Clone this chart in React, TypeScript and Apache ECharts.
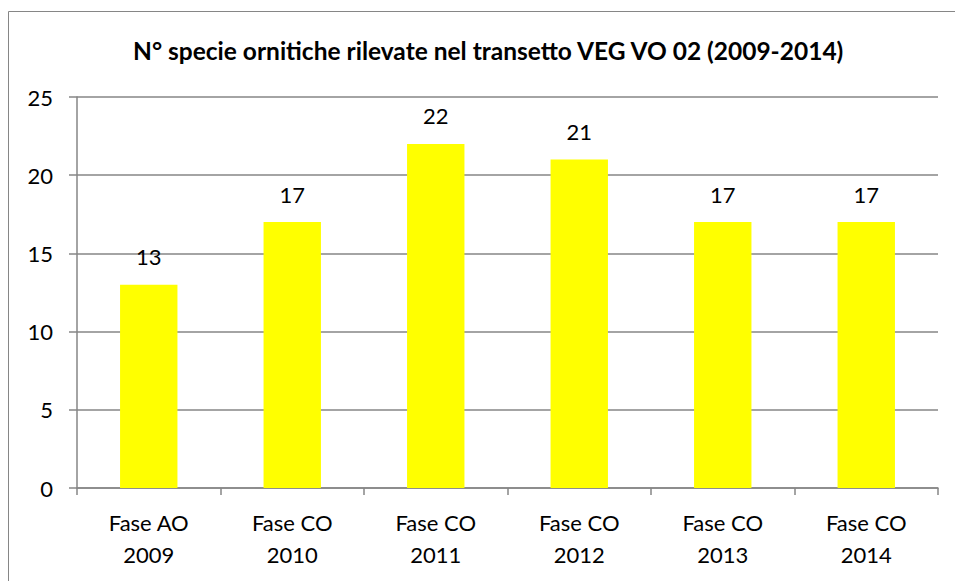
import React, { useEffect, useRef } from "react";
import * as echarts from "echarts";

const categories = ["Fase AO\n2009", "Fase CO\n2010", "Fase CO\n2011", "Fase CO\n2012", "Fase CO\n2013", "Fase CO\n2014"];
const values = [13, 17, 22, 21, 17, 17];
const titleText = "N° specie ornitiche rilevate nel transetto VEG VO 02 (2009-2014)";

const FONT = "Lato, 'Open Sans', sans-serif";

export default function App() {
  const ref = useRef<HTMLDivElement>(null);
  useEffect(() => {
    if (!ref.current) return;
    const chart = echarts.init(ref.current, undefined, { renderer: "svg" });
    chart.setOption({
      animation: false,
      backgroundColor: "#ffffff",
      title: {
        text: titleText,
        left: 128,
        top: 33,
        textStyle: { fontFamily: FONT, fontSize: 24.5, fontWeight: "bold", color: "#000" },
      },
      graphic: [
        {
          type: "rect",
          shape: { x: 8.5, y: 11.5, width: 980, height: 600 },
          style: { fill: "none", stroke: "#868686", lineWidth: 1 },
          silent: true,
        },
      ],
      grid: { left: 77, top: 97, right: 17, bottom: 93 },
      xAxis: {
        type: "category",
        data: categories,
        axisLine: { lineStyle: { color: "#868686", width: 1.5 } },
        axisTick: { show: true, length: 7, lineStyle: { color: "#868686", width: 1.5 } },
        axisLabel: { fontFamily: FONT, fontSize: 22, color: "#000", lineHeight: 32, margin: 18 },
      },
      yAxis: {
        type: "value",
        min: 0,
        max: 25,
        interval: 5,
        axisLine: { show: true, lineStyle: { color: "#868686", width: 1.5 } },
        axisTick: { show: true, length: 8, lineStyle: { color: "#868686", width: 1.5 } },
        axisLabel: { fontFamily: FONT, fontSize: 22, color: "#000", margin: 24 },
        splitLine: { lineStyle: { color: "#868686", width: 1.5 } },
      },
      series: [
        {
          type: "bar",
          data: values,
          barWidth: "40%",
          itemStyle: { color: "#ffff00" },
          label: {
            show: true,
            position: "top",
            distance: 17,
            fontFamily: FONT,
            fontSize: 22,
            color: "#000",
          },
        },
      ],
    });
    return () => chart.dispose();
  }, []);
  return (
    <div
      ref={ref}
      style={{ position: "absolute", left: 0, top: 0, width: 955, height: 581 }}
    />
  );
}
